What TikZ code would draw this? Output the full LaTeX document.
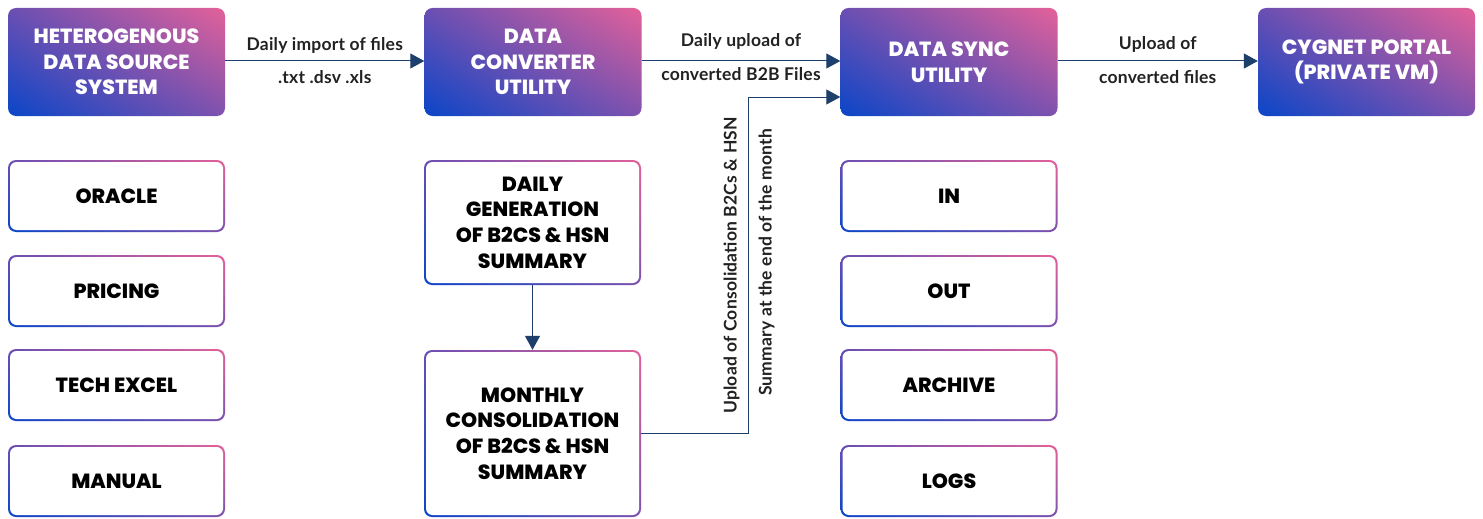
\documentclass[tikz,border=0pt]{standalone}
\usepackage{fontspec}
\setmainfont{Poppins}[BoldFont={Poppins ExtraBold}]
\newfontfamily\labelfont{Lato}[UprightFont={* Bold}, LetterSpace=1.2]
\usetikzlibrary{arrows.meta,shadings}
\definecolor{gblue}{HTML}{0A46C8}
\definecolor{gpink}{HTML}{E3619A}
\definecolor{gpurpA}{HTML}{6A4FB2}
\definecolor{gpurpB}{HTML}{7E52AE}
\definecolor{arr}{HTML}{1D3F6C}
\definecolor{lbl}{HTML}{222222}
\begin{document}
\begin{tikzpicture}[x=1pt,y=-1pt,
  gradfill/.style={lower left=gblue, upper right=gpink, upper left=gpurpA, lower right=gpurpB},
  boxfont/.style={font=\fontsize{20.5}{25.7}\selectfont\bfseries},
  fbox/.style={gradfill, boxfont, rounded corners=8pt, minimum width=217pt, minimum height=108pt, text=white, align=center, inner sep=0pt},
  obox/.style={gradfill, boxfont, rounded corners=8pt, minimum width=217pt, text=black, align=center, inner sep=0pt,
    path picture={\fill[white,rounded corners=6.5pt] ([shift={(2pt,-2pt)}]path picture bounding box.north west) rectangle ([shift={(-2pt,2pt)}]path picture bounding box.south east);}},
  conn/.style={draw=arr, line width=1pt, -{Triangle[length=14pt,width=15pt]}},
  lab/.style={font=\labelfont\fontsize{17.5}{20}\selectfont, text=lbl, inner sep=0pt}
]
\fill[white] (0,0) rectangle (1483,519);
\useasboundingbox (0,0) rectangle (1483,519);

% top row
\node[fbox] (src)  at (116.5,62) {HETEROGENOUS\\DATA SOURCE\\SYSTEM};
\node[fbox] (conv) at (533,62) {DATA\\CONVERTER\\UTILITY};
\node[fbox] (sync) at (949,62) {DATA SYNC\\UTILITY};
\node[fbox] (portal) at (1366.5,62) {CYGNET PORTAL\\(PRIVATE VM)};

% left column
\node[obox, minimum height=72pt] (oracle)  at (116.5,196) {ORACLE};
\node[obox, minimum height=72pt] (pricing) at (116.5,291) {PRICING};
\node[obox, minimum height=72pt] (tech)    at (116.5,385) {TECH EXCEL};
\node[obox, minimum height=72pt] (manual)  at (116.5,481) {MANUAL};

% middle column
\node[obox, minimum height=125pt] (daily)   at (532.5,222.5) {DAILY\\GENERATION\\OF B2CS \& HSN\\SUMMARY};
\node[obox, minimum height=167pt] (monthly) at (532.5,433.5) {MONTHLY\\CONSOLIDATION\\OF B2CS \& HSN\\SUMMARY};

% right column
\node[obox, minimum height=72pt] (in)      at (949,196) {IN};
\node[obox, minimum height=72pt] (out)     at (949,291) {OUT};
\node[obox, minimum height=72pt] (archive) at (949,385) {ARCHIVE};
\node[obox, minimum height=72pt] (logs)    at (949,481) {LOGS};

% connectors
\draw[conn] (src.east |- 0,61) -- (conv.west |- 0,61)
  node[lab, midway, yshift=16pt] (l1a) {Daily import of files}
  node[lab, midway, yshift=-16pt] (l1b) {.txt .dsv .xls};
\draw[conn] (conv.east |- 0,61) -- (sync.west |- 0,61)
  node[lab, midway, yshift=20pt] (l2a) {Daily upload of}
  node[lab, midway, yshift=-13pt] (l2b) {converted B2B Files};
\draw[conn] (sync.east |- 0,61) -- (portal.west |- 0,61)
  node[lab, midway, yshift=17pt] (l3a) {Upload of}
  node[lab, midway, yshift=-16pt] (l3b) {converted files};
\draw[conn] (daily) -- (monthly);
\coordinate (elbow) at (748,97);
\draw[conn] (monthly.east) -| (elbow) -- (elbow -| sync.west);
\node[lab, rotate=90] (r1) at (731.5,265.5) {Upload of Consolidation B2Cs \& HSN};
\node[lab, rotate=90] (r2) at (766.5,262.5) {Summary at the end of the month};
\end{tikzpicture}
\end{document}
